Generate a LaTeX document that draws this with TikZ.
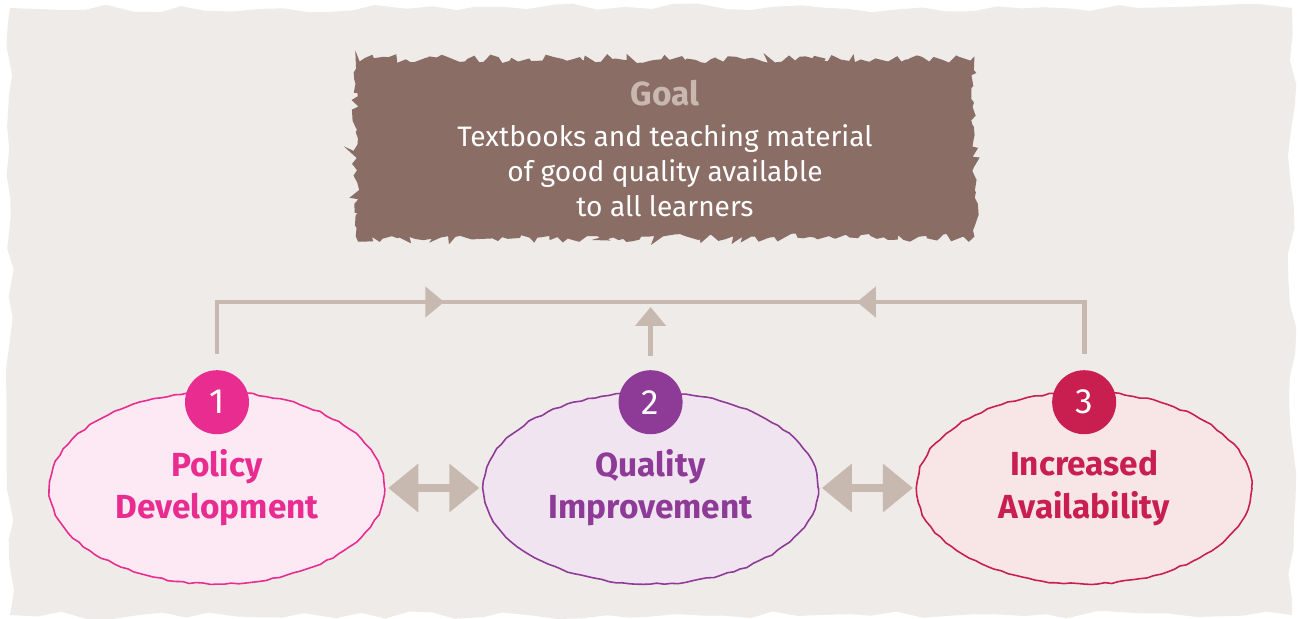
\documentclass[tikz,border=0pt]{standalone}
\usepackage{fontspec}
\setmainfont{Fira Sans}
\usetikzlibrary{positioning,shapes.geometric,arrows.meta,decorations.pathmorphing,decorations.markings}
\definecolor{bgG}{HTML}{EEEBE8}
\definecolor{goalB}{HTML}{8A6D64}
\definecolor{goalT}{HTML}{C9B8B0}
\definecolor{arrC}{HTML}{C8B9B0}
\definecolor{pinkD}{HTML}{E92C8F}
\definecolor{pinkL}{HTML}{FCE9F3}
\definecolor{purpD}{HTML}{8E3B97}
\definecolor{purpL}{HTML}{F0E4F1}
\definecolor{redD}{HTML}{C81F50}
\definecolor{redL}{HTML}{F8E6E6}
\tikzset{
    TT/.tip ={Triangle[length=0.38cm, width=0.6cm]},
    DT/.tip ={Triangle[length=0.6cm, width=0.94cm]},
    BG/.style ={fill=bgG, decorate, decoration={random steps, segment length=14pt, amplitude=2.5pt}},
    GB/.style ={rectangle, minimum width=12.3cm, minimum height=3.5cm, fill=goalB, draw=goalB, line width=2pt,
        decorate, decoration={random steps, segment length=3pt, amplitude=2.5pt},
        text=white, align=center, font=\fontsize{16}{20}\selectfont},
    EL/.style ={ellipse, minimum width=6.7cm, minimum height=3.84cm, inner sep=0pt, line width=0.9pt,
        decorate, decoration={random steps, segment length=4pt, amplitude=0.5pt},
        align=center, font=\bfseries\fontsize{19}{24}\selectfont},
    NC/.style ={circle, minimum size=1.28cm, inner sep=0pt, text=white, font=\fontsize{20}{20}\selectfont},
    AR/.style ={draw=arrC, line width=2.8pt},
    MA/.style ={postaction={decorate, decoration={markings, mark=at position 0.575 with {\arrow{TT}}}}},
    DA/.style ={draw=arrC, line width=4pt, DT-DT, shorten <=0.06cm, shorten >=0.06cm}}

\begin{document}
\begin{tikzpicture}
        \useasboundingbox (0,0) rectangle (26,12.38);
        \fill[BG] (0.2,0.08) rectangle (25.84,12.22);

        % goal
        \node[GB] (goal) at (13.3,9.41) {\textcolor{goalT}{\bfseries\fontsize{19}{22}\selectfont Goal}\\[3pt]
            Textbooks and teaching material\\of good quality available\\to all learners};

        % the three pillars
        \node[EL, draw=pinkD, fill=pinkL, text=pinkD] (pol) at (4.34,2.62) {Policy\\Development};
        \node[EL, draw=purpD, fill=purpL, text=purpD, right=1.94cm of pol] (qua) {Quality\\Improvement};
        \node[EL, draw=redD, fill=redL, text=redD, right=1.94cm of qua] (ava) {Increased\\Availability};

        \node[NC, fill=pinkD] (n1) at ([yshift=-0.22cm]pol.north) {1};
        \node[NC, fill=purpD] (n2) at ([yshift=-0.22cm]qua.north) {2};
        \node[NC, fill=redD] (n3) at ([yshift=-0.22cm]ava.north) {3};

        \coordinate[above=0.32cm of n1] (t1);
        \coordinate[above=0.28cm of n2] (t2);
        \coordinate[above=0.32cm of n3] (t3);
        \coordinate (hub) at (t2 |- 0,6.34);

        \draw[AR, MA] (t1) |- (hub);
        \draw[AR, MA] (t3) |- (hub);
        \draw[AR, -TT, shorten >=0.1cm] (t2) -- (hub);

        \draw[DA] (pol) -- (qua);
        \draw[DA] (qua) -- (ava);
    \end{tikzpicture}
\end{document}
